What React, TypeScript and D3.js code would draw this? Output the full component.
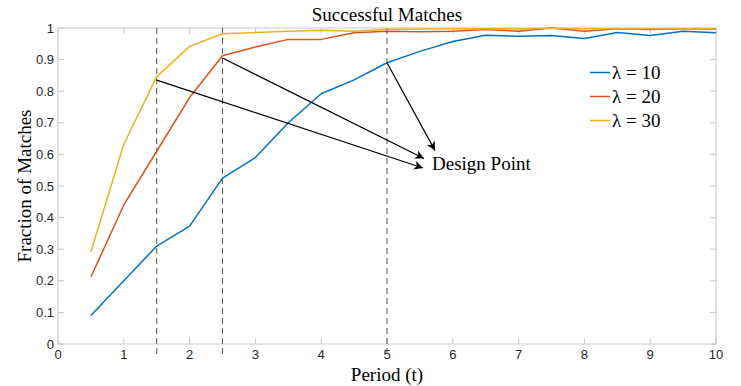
import React from 'react';
import * as d3 from 'd3';

const periods = [0.5, 1, 1.5, 2, 2.5, 3, 3.5, 4, 4.5, 5, 5.5, 6, 6.5, 7, 7.5, 8, 8.5, 9, 9.5, 10];

const lambda10 = [0.09, 0.2, 0.31, 0.373, 0.525, 0.59, 0.7, 0.792, 0.836, 0.89, 0.926, 0.957, 0.977, 0.974, 0.976, 0.967, 0.986, 0.976, 0.99, 0.985];
const lambda20 = [0.212, 0.44, 0.61, 0.78, 0.912, 0.94, 0.964, 0.964, 0.985, 0.99, 0.988, 0.99, 0.995, 0.99, 1.0, 0.99, 0.998, 0.995, 0.997, 0.997];
const lambda30 = [0.292, 0.632, 0.846, 0.942, 0.982, 0.986, 0.99, 0.993, 0.99, 0.996, 0.997, 0.998, 0.998, 0.997, 0.999, 0.998, 0.998, 0.998, 0.997, 0.998];

const seriesNames = ['λ = 10', 'λ = 20', 'λ = 30'];
const seriesColors = ['#0072BD', '#D95319', '#EDB120'];

const xTicks = [0, 1, 2, 3, 4, 5, 6, 7, 8, 9, 10];
const yTicks = [0, 0.1, 0.2, 0.3, 0.4, 0.5, 0.6, 0.7, 0.8, 0.9, 1];

const designX = [1.5, 2.5, 5];

// arrows: [fromX, fromY, toX, toY] in data units
const arrows = [
  [1.5, 0.835, 5.547, 0.557],
  [2.5, 0.905, 5.562, 0.587],
  [5, 0.89, 5.73, 0.612],
];

const W = 741;
const H = 386;
const padding = { top: 28, right: 25, bottom: 42, left: 58 };

const serif = '"Liberation Serif", "Times New Roman", serif';
const sans = '"Liberation Sans", Arial, sans-serif';

const App = () => {
  const x = d3
    .scaleLinear()
    .domain([0, 10])
    .range([padding.left, W - padding.right]);

  const y = d3
    .scaleLinear()
    .domain([0, 1])
    .range([H - padding.bottom, padding.top]);

  const line = d3
    .line<number>()
    .x((_, i) => x(periods[i]))
    .y((d) => y(d));

  const series = [lambda10, lambda20, lambda30];
  const axisColor = '#c8c8c8';
  const tickLen = 6;
  const x0 = x(0);
  const x1 = x(10);
  const y0 = y(0);
  const y1 = y(1);

  return (
    <div style={{ position: 'fixed', left: 0, top: 0 }}>
      <svg width={W} height={H} viewBox={`0 0 ${W} ${H}`} style={{ display: 'block', background: '#fff' }}>
        <defs>
          <marker
            id="arrow"
            viewBox="0 0 10 10"
            refX="10"
            refY="5"
            markerWidth="9"
            markerHeight="9"
            markerUnits="userSpaceOnUse"
            orient="auto"
          >
            <path d="M0,0 L10,5 L0,10 L3,5 Z" fill="#000" />
          </marker>
        </defs>

        {/* box */}
        <g className="axis" stroke={axisColor} fill="none">
          <rect x={x0} y={y1} width={x1 - x0} height={y0 - y1} />
          {xTicks.map((t) => (
            <g key={`xt${t}`}>
              <line x1={x(t)} x2={x(t)} y1={y0} y2={y0 - tickLen} />
              <line x1={x(t)} x2={x(t)} y1={y1} y2={y1 + tickLen} />
            </g>
          ))}
          {yTicks.map((t) => (
            <g key={`yt${t}`}>
              <line x1={x0} x2={x0 + tickLen} y1={y(t)} y2={y(t)} />
              <line x1={x1} x2={x1 - tickLen} y1={y(t)} y2={y(t)} />
            </g>
          ))}
        </g>

        <g className="tick-labels" fontFamily={sans} fontSize={13} fill="#262626">
          {xTicks.map((t) => (
            <text key={`xl${t}`} x={x(t)} y={y0 + 15} textAnchor="middle">
              {t}
            </text>
          ))}
          {yTicks.map((t) => (
            <text key={`yl${t}`} x={x0 - 4} y={y(t) + 4.5} textAnchor="end">
              {t === 0 || t === 1 ? t : t.toFixed(1)}
            </text>
          ))}
        </g>

        {/* design point markers */}
        <g className="design" stroke="#555" strokeWidth={1} strokeDasharray="6,4">
          {designX.map((d) => (
            <line key={d} x1={x(d)} x2={x(d)} y1={y1} y2={y0 + 10} />
          ))}
        </g>

        <g className="data" fill="none" strokeWidth={1.5} strokeLinejoin="round">
          {series.map((s, i) => (
            <path key={i} d={line(s) || ''} stroke={seriesColors[i]} />
          ))}
        </g>

        <g className="arrows" stroke="#000" strokeWidth={1.2}>
          {arrows.map((a, i) => (
            <line
              key={i}
              x1={x(a[0])}
              y1={y(a[1])}
              x2={x(a[2])}
              y2={y(a[3])}
              markerEnd="url(#arrow)"
            />
          ))}
        </g>

        <text x={432} y={170} fontFamily={serif} fontSize={19} fill="#000">
          Design Point
        </text>

        <g className="legend" fontFamily={serif} fontSize={19} fill="#000">
          {seriesNames.map((name, i) => (
            <g key={name} transform={`translate(590, ${72.5 + i * 24})`}>
              <line x1={0} x2={20} y1={0} y2={0} stroke={seriesColors[i]} strokeWidth={1.5} />
              <text x={22} y={6.5}>
                {name}
              </text>
            </g>
          ))}
        </g>

        <text x={(x0 + x1) / 2} y={21} textAnchor="middle" fontFamily={serif} fontSize={19} fill="#000">
          Successful Matches
        </text>
        <text x={(x0 + x1) / 2} y={381} textAnchor="middle" fontFamily={serif} fontSize={19} fill="#000">
          Period (t)
        </text>
        <text
          transform={`translate(31, ${(y0 + y1) / 2}) rotate(-90)`}
          textAnchor="middle"
          fontFamily={serif}
          fontSize={19}
          fill="#000"
        >
          Fraction of Matches
        </text>
      </svg>
    </div>
  );
};

export default App;
